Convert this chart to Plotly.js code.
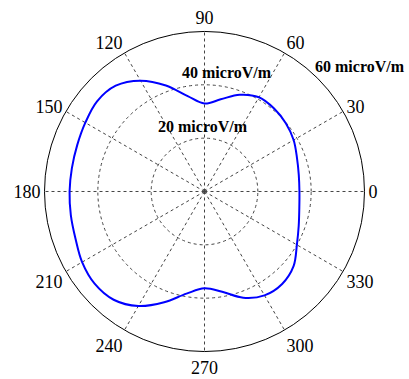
<!DOCTYPE html>
<html>
<head>
<meta charset="utf-8">
<script src="https://cdn.plot.ly/plotly-3.0.1.min.js"></script>
<style>html,body{margin:0;padding:0;background:#fff;}#chart{width:409px;height:379px;}</style>
</head>
<body>
<div id="chart"></div>
<script>
const angles = [0,10,20,30,40,50,60,70,80,90,100,110,120,130,140,150,160,170,180,190,200,210,220,230,240,250,260,270,280,290,300,310,320,330,340,350,360];
const field = [35.6,35.9,36.9,38.6,39.8,40.6,40.8,38.6,35.1,33.0,36.3,42.3,48.0,51.8,52.6,51.6,50.8,50.5,50.6,50.9,51.5,53.0,53.8,53.0,49.6,44.2,38.9,36.3,38.2,42.4,45.0,45.3,43.6,40.0,37.6,36.1,35.6];
const angleTicks = [0,30,60,90,120,150,180,210,240,270,300,330];
const angleLabels = ['0','30','60','90','120','150','180','210','240','270','300','330'];
const radialTicks = [20,40];
const radialLabels = ['20 microV/m','40 microV/m','60 microV/m'];

const serif = 'Liberation Serif, Times New Roman, serif';
const trace = {
  type: 'scatterpolar',
  r: field,
  theta: angles,
  mode: 'lines',
  line: {color: '#0000ff', width: 2, shape: 'spline', smoothing: 1},
  hoverinfo: 'skip'
};
const labelFont = {family: serif, size: 16, color: '#000', weight: 'bold'};
const layout = {
  width: 409, height: 379,
  margin: {l: 0, r: 0, t: 0, b: 0},
  paper_bgcolor: '#ffffff',
  showlegend: false,
  polar: {
    domain: {x: [0.1088, 0.8912], y: [0.0726, 0.9169]},
    bgcolor: '#ffffff',
    angularaxis: {
      rotation: 0, direction: 'counterclockwise',
      tickmode: 'array', tickvals: angleTicks, ticktext: angleLabels,
      ticks: '',
      tickfont: {family: serif, size: 18, color: '#000'},
      showline: true, linecolor: '#000', linewidth: 1,
      showgrid: true, gridcolor: '#444', gridwidth: 1, griddash: '3px,3px'
    },
    radialaxis: {
      range: [0, 60],
      tickmode: 'array', tickvals: radialTicks,
      showticklabels: false, ticks: '', showline: false,
      showgrid: true, gridcolor: '#444', gridwidth: 1, griddash: '3px,3px'
    }
  },
  annotations: [
    {text: radialLabels[0], xref: 'paper', yref: 'paper', x: 203/409, y: 1 - 126/379, showarrow: false,
     font: labelFont, xanchor: 'center', yanchor: 'middle'},
    {text: radialLabels[1], xref: 'paper', yref: 'paper', x: 227/409, y: 1 - 73/379, showarrow: false,
     font: labelFont, xanchor: 'center', yanchor: 'middle'},
    {text: radialLabels[2], xref: 'paper', yref: 'paper', x: 360/409, y: 1 - 67/379, showarrow: false,
     font: labelFont, xanchor: 'center', yanchor: 'middle'}
  ]
};
Plotly.newPlot('chart', [trace], layout, {displayModeBar: false, staticPlot: true});
</script>
</body>
</html>
